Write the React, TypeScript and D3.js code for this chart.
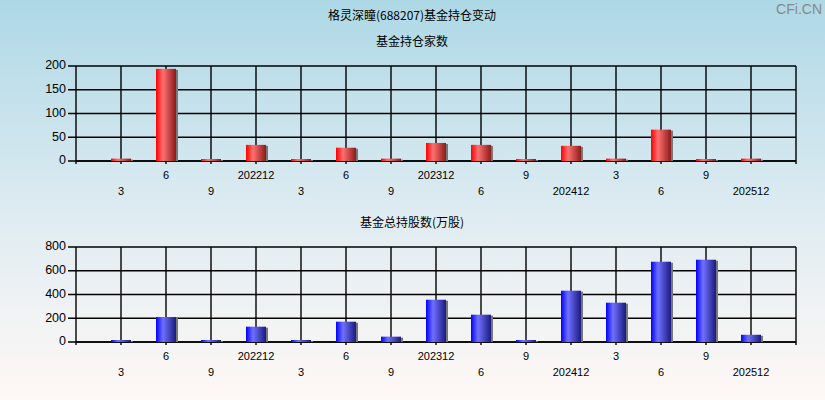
import React from "react";
import * as d3 from "d3";

const periods = ["202203","202206","202209","202212","202303","202306","202309","202312","202406","202409","202412","202503","202506","202509","202512"];
const tickLabels = ["3","6","9","202212","3","6","9","202312","6","9","202412","3","6","9","202512"];
const fundCounts = [5, 194, 3, 34, 3, 28, 5, 38, 34, 3, 32, 5, 66, 3, 5];
const fundShares = [8, 210, 10, 129, 8, 171, 45, 356, 230, 12, 432, 331, 676, 693, 61];
const countTicks = [0, 50, 100, 150, 200];
const shareTicks = [0, 200, 400, 600, 800];

const W = 825, H = 400;
const L = 76, R = 796;

function Panel({ top, bottom, values, ticks, max, title, titleY, grad }: any) {
  const x = d3.scalePoint<string>().domain(periods).range([L, R]).padding(1);
  const y = d3.scaleLinear().domain([0, max]).range([bottom, top]);
  const step = x.step();
  const gridX = d3.range(0, periods.length + 2).map((i) => L + i * step);
  const bw = 20;
  return (
    <g>
      <text x={412} y={titleY} textAnchor="middle" fontFamily="'Noto Sans CJK SC', sans-serif" fontSize={12} fill="#000" dominantBaseline="middle">{title}</text>
      {ticks.map((t: number) => (
        <g key={t}>
          <line x1={L - 8} x2={R} y1={y(t)} y2={y(t)} stroke="#000" strokeWidth={1.4} />
          <text x={66} y={y(t)} textAnchor="end" dominantBaseline="middle" fontFamily="'Liberation Sans', Arial, sans-serif" fontSize={12.5} fill="#000">{t}</text>
        </g>
      ))}
      {gridX.map((gx, i) => (
        <line key={i} x1={gx} x2={gx} y1={top} y2={bottom + 3} stroke="#000" strokeWidth={1.4} />
      ))}
      <line x1={L} x2={R} y1={bottom} y2={bottom} stroke="#000" strokeWidth={1.5} />
      {values.map((v: number, i: number) => {
        const cx = x(periods[i])!;
        const yt = Math.min(y(v), bottom - 2);
        const h = bottom - yt;
        return (
          <g key={i}>
            <rect x={cx - bw / 2 + 1} y={yt + 1} width={bw + 1} height={Math.max(h - 1, 1)} fill="#777" />
            <rect x={cx - bw / 2} y={yt} width={bw} height={h} fill={`url(#${grad})`} />
          </g>
        );
      })}
      {periods.map((p, i) => (
        <text key={p} x={x(p)!} y={i % 2 === 0 ? bottom + 31 : bottom + 15} textAnchor="middle" dominantBaseline="middle" fontFamily="'Liberation Sans', Arial, sans-serif" fontSize={11} fill="#000">{tickLabels[i]}</text>
      ))}
    </g>
  );
}

export default function App() {
  return (
    <svg width={W} height={H} style={{ position: "absolute", left: 0, top: 0 }}>
      <defs>
        <linearGradient id="bg" x1="0" y1="0" x2="0" y2="1">
          <stop offset="0" stopColor="#add8e6" />
          <stop offset="0.55" stopColor="#e0ecf2" />
          <stop offset="1" stopColor="#fff8f5" />
        </linearGradient>
        <linearGradient id="red" x1="0" y1="0" x2="1" y2="0">
          <stop offset="0" stopColor="#ff0000" />
          <stop offset="0.35" stopColor="#ff7070" />
          <stop offset="1" stopColor="#8b1a1a" />
        </linearGradient>
        <linearGradient id="blue" x1="0" y1="0" x2="1" y2="0">
          <stop offset="0" stopColor="#0000ff" />
          <stop offset="0.35" stopColor="#7070ff" />
          <stop offset="1" stopColor="#1a1a80" />
        </linearGradient>
      </defs>
      <rect x={0} y={0} width={W} height={H} fill="url(#bg)" />
      <text x={412} y={17} textAnchor="middle" dominantBaseline="middle" fontFamily="'Noto Sans CJK SC', sans-serif" fontSize={12} fill="#000">格灵深瞳(688207)基金持仓变动</text>
      <text x={822} y={10} textAnchor="end" dominantBaseline="middle" fontFamily="'Liberation Sans', Arial, sans-serif" fontSize={14} fill="#888">CFi.CN</text>
      <Panel top={66} bottom={161} values={fundCounts} ticks={countTicks} max={200} title="基金持仓家数" titleY={43} grad="red" />
      <Panel top={247} bottom={342} values={fundShares} ticks={shareTicks} max={800} title="基金总持股数(万股)" titleY={224} grad="blue" />
    </svg>
  );
}
